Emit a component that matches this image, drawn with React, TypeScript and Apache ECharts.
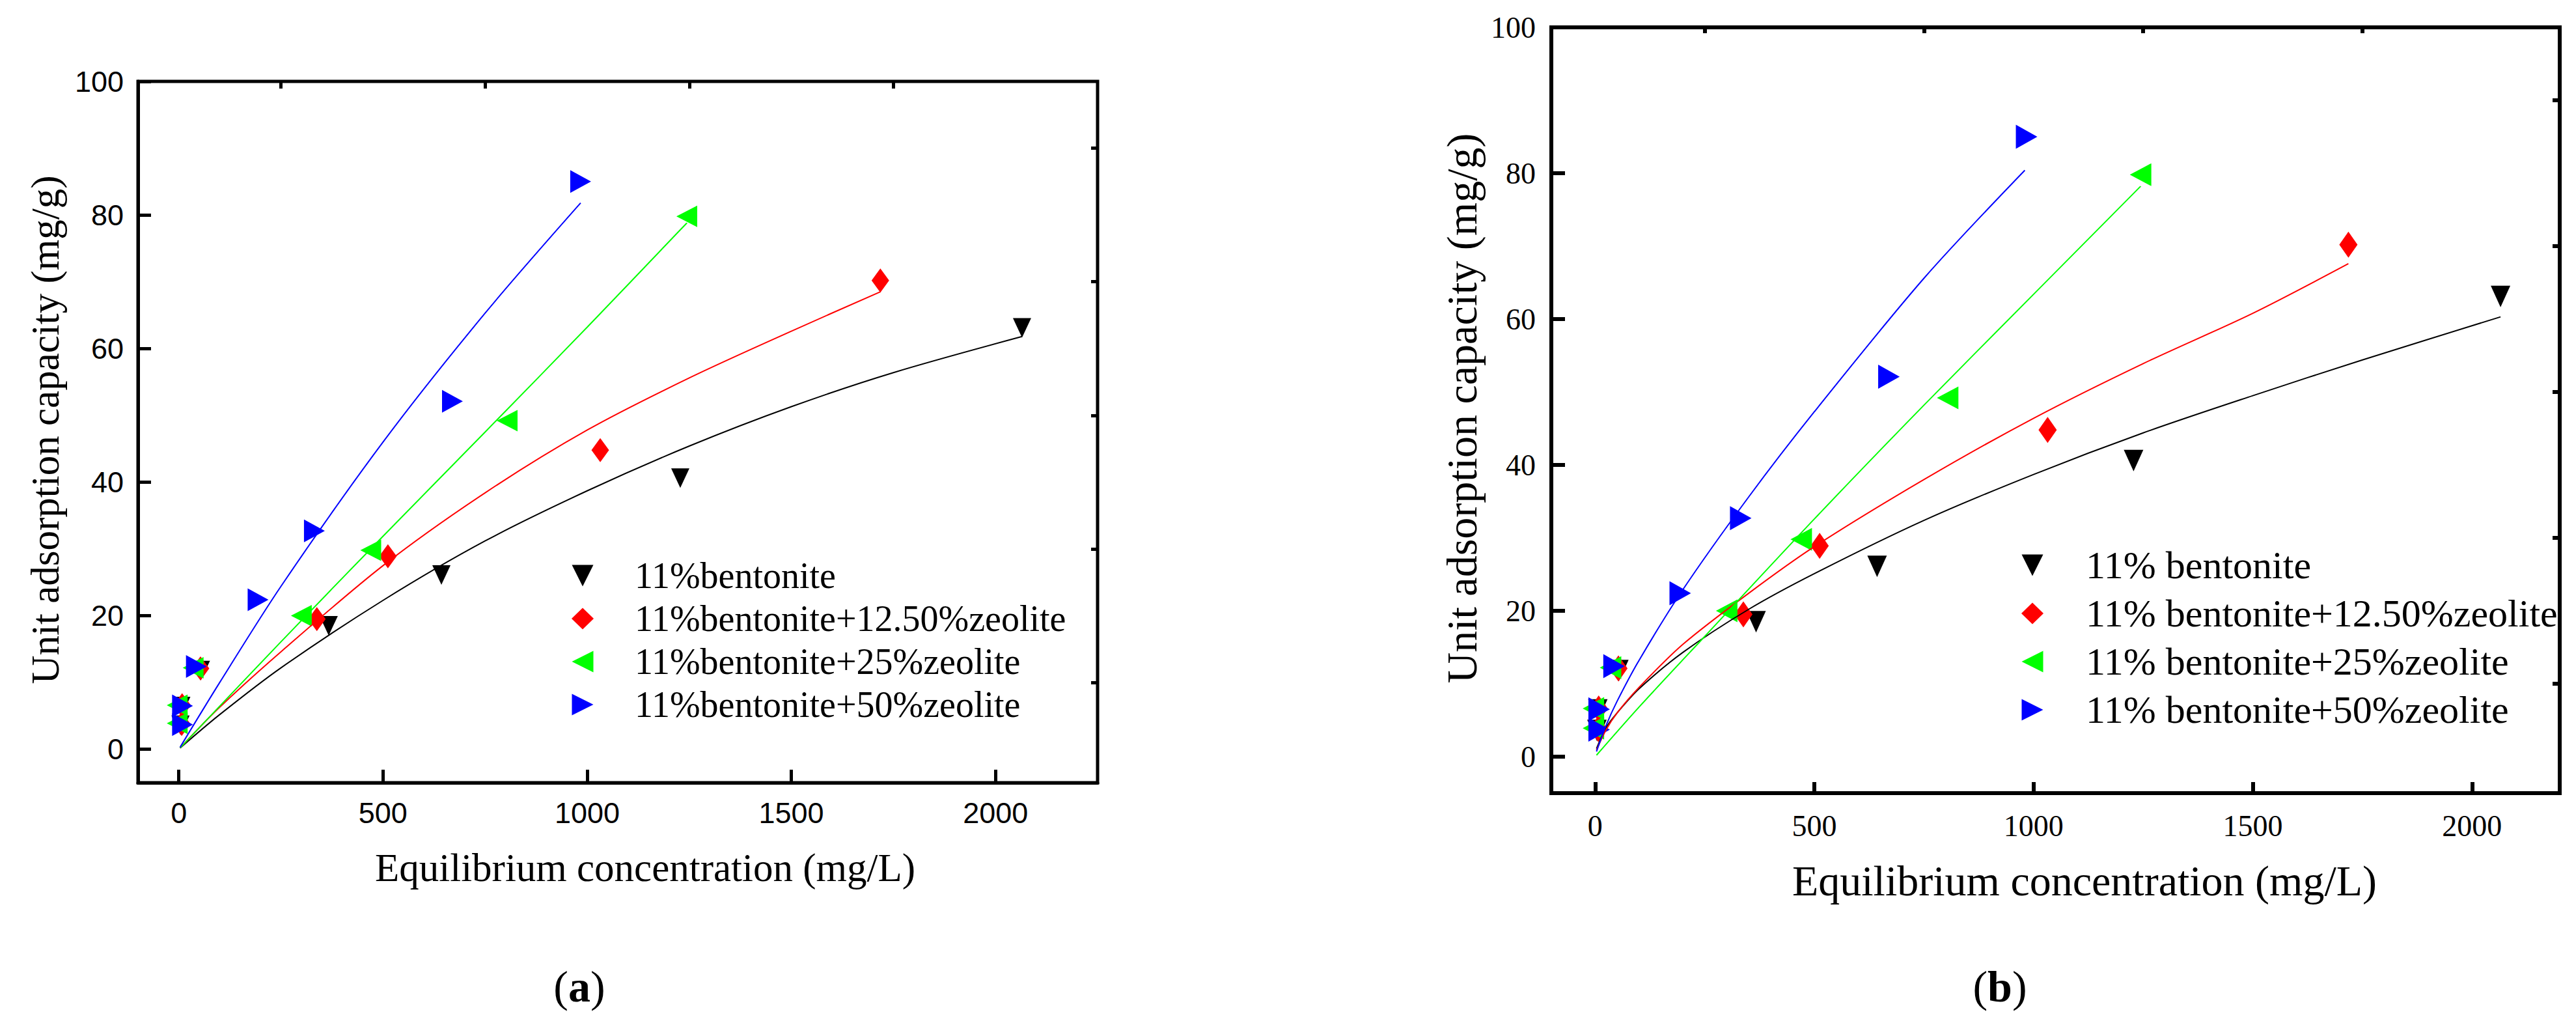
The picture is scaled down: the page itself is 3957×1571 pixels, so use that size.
import { useEffect, useRef } from "react";
import * as echarts from "echarts";

// measured points (same data in both panels)
const blackPts = [[4, 3.6], [6, 6.4], [54, 11.8], [367, 18.5], [643, 26.1], [1228, 40.6], [2065, 63.1]];
const redPts = [[7, 3.8], [8, 6.6], [53, 12.1], [338, 19.5], [512, 28.9], [1032, 44.8], [1718, 70.2]];
const greenPts = [[-4, 3.9], [-4, 6.6], [35, 12.2], [300, 20.0], [470, 29.8], [804, 49.2], [1244, 79.8]];
const bluePts = [[9, 3.7], [9, 6.5], [43, 12.4], [194, 22.4], [332, 32.7], [670, 52.1], [984, 85.0]];

// fitted curves, panel (a)
const blackFitA = [[3, 0.2], [100, 5.2], [250, 12.2], [500, 22.3], [750, 31.2], [1000, 38.7], [1250, 45.4], [1500, 51.3], [1750, 56.4], [2065, 61.8]];
const redFitA = [[3, 0.2], [100, 6.3], [250, 14.6], [500, 27.5], [750, 38.4], [1000, 47.8], [1250, 55.6], [1500, 62.6], [1718, 68.5]];
const greenFitA = [[3, 0.2], [250, 16.1], [500, 31.9], [750, 47.5], [1000, 63.2], [1244, 78.8]];
const blueFitA = [[3, 0.3], [100, 10.0], [250, 24.4], [500, 46.0], [750, 65.3], [984, 81.8]];

// fitted curves, panel (b)
const blackFitB = [[3, 1.1], [25, 4.0], [50, 6.0], [100, 9.3], [200, 14.3], [350, 20.2], [500, 25.1], [750, 32.4], [1000, 38.7], [1250, 44.4], [1500, 49.5], [1750, 54.4], [2065, 60.3]];
const redFitB = [[3, 0.9], [25, 3.7], [50, 6.0], [100, 9.5], [200, 15.4], [350, 22.4], [500, 28.8], [750, 38.0], [1000, 46.4], [1250, 53.9], [1500, 60.8], [1718, 67.6]];
const greenFitB = [[3, 0.2], [100, 6.8], [250, 16.5], [500, 32.6], [750, 48.2], [1000, 63.4], [1244, 78.2]];
const blueFitB = [[3, 0.7], [25, 4.3], [50, 7.6], [100, 13.2], [200, 22.9], [350, 35.6], [500, 47.3], [750, 65.6], [980, 80.4]];

const namesA = ["11%bentonite", "11%bentonite+12.50%zeolite", "11%bentonite+25%zeolite", "11%bentonite+50%zeolite"];
const namesB = ["11% bentonite", "11% bentonite+12.50%zeolite", "11% bentonite+25%zeolite", "11% bentonite+50%zeolite"];

const X_MAJOR = [0, 500, 1000, 1500, 2000];
const X_MINOR = [250, 750, 1250, 1750];
const Y_MAJOR = [0, 20, 40, 60, 80, 100];
const Y_MINOR = [10, 30, 50, 70, 90];

const COLORS = ["#000000", "#ff0000", "#00ff00", "#0000ff"];
const SYMBOLS = ["path://M0,0L10,0L5,10Z", "diamond", "path://M10,0L0,5L10,10Z", "path://M0,0L10,5L0,10Z"];

const SERIF = "'Liberation Serif', 'Times New Roman', serif";
const SANS = "'Liberation Sans', Arial, sans-serif";

function axes(gridIndex: number, xMax: number, lw: number, font: string, fs: number, xMargin: number, yMargin: number, tickY: number, tickX: number) {
  const label = { fontSize: fs, fontFamily: font, color: "#000", formatter: (v: number) => String(v) };
  const xAxis = [
    {
      type: "value", gridIndex, min: -100, max: xMax,
      axisLine: { show: true, onZero: false, lineStyle: { color: "#000", width: lw } },
      axisTick: { show: true, inside: true, length: tickX, customValues: X_MAJOR, lineStyle: { color: "#000", width: lw } },
      axisLabel: { ...label, margin: xMargin, customValues: X_MAJOR },
      splitLine: { show: false },
    },
    {
      type: "value", gridIndex, min: -100, max: xMax,
      axisLine: { show: false, onZero: false },
      axisTick: { show: true, inside: true, length: Math.round(tickX * 0.55), customValues: X_MINOR, lineStyle: { color: "#000", width: lw } },
      axisLabel: { show: false },
      splitLine: { show: false },
    },
  ];
  const yAxis = [
    {
      type: "value", gridIndex, min: -5, max: 100,
      axisLine: { show: true, onZero: false, lineStyle: { color: "#000", width: lw } },
      axisTick: { show: true, inside: true, length: tickY, customValues: Y_MAJOR, lineStyle: { color: "#000", width: lw } },
      axisLabel: { ...label, margin: yMargin, customValues: Y_MAJOR },
      splitLine: { show: false },
    },
    {
      type: "value", gridIndex, min: -5, max: 100,
      axisLine: { show: false, onZero: false },
      axisTick: { show: true, inside: true, length: Math.round(tickY * 0.5), customValues: Y_MINOR, lineStyle: { color: "#000", width: lw } },
      axisLabel: { show: false },
      splitLine: { show: false },
    },
  ];
  return { xAxis, yAxis };
}

function panelSeries(axisIndex: number, names: string[], fits: number[][][], sizes: number[][]) {
  const pts = [blackPts, redPts, greenPts, bluePts];
  const out: any[] = [];
  pts.forEach((d, i) => {
    out.push({
      type: "scatter", name: names[i], xAxisIndex: axisIndex, yAxisIndex: axisIndex,
      data: d, symbol: SYMBOLS[i], symbolSize: sizes[i],
      itemStyle: { color: COLORS[i], opacity: 1 }, z: 3,
    });
  });
  fits.forEach((d, i) => {
    out.push({
      type: "line", xAxisIndex: axisIndex, yAxisIndex: axisIndex, data: d,
      smooth: 0.3, symbol: "none", showSymbol: false, silent: true,
      lineStyle: { color: COLORS[i], width: 2 }, itemStyle: { color: COLORS[i] }, z: 4,
    });
  });
  return out;
}

function buildOption() {
  const a = axes(0, 2250, 5, SANS, 45, 24, 22, 20, 20);
  const b = axes(1, 2200, 6, SERIF, 46, 27, 24, 21, 17);

  const legend = (names: string[], left: number, top: number, fs: number, gap: number, pad: number) => ({
    orient: "vertical", left, top, itemWidth: 34, itemHeight: 33, itemGap: gap, selectedMode: false,
    data: names.map((n, i) => ({ name: n, icon: SYMBOLS[i] })),
    textStyle: { fontSize: fs, fontFamily: SERIF, color: "#000", lineHeight: fs, padding: [0, 0, 0, pad] },
  });

  const title = (x: number, y: number, text: string, rot: number, fs: number) => ({
    type: "text", x, y, rotation: rot,
    style: { text, fontSize: fs, fontFamily: SERIF, fill: "#000", align: "center", verticalAlign: "middle" },
  });

  const panelTag = (x: number, letter: string) => ({
    type: "text", x, y: 1515,
    style: {
      text: `{p|(}{b|${letter}}{p|)}`, align: "center", verticalAlign: "middle",
      rich: {
        p: { fontSize: 68, fontFamily: SERIF, fill: "#000" },
        b: { fontSize: 68, fontFamily: SERIF, fontWeight: "bold", fill: "#000" },
      },
    },
  });

  return {
    animation: false,
    backgroundColor: "#ffffff",
    grid: [
      { left: 212, top: 125, width: 1474, height: 1077, show: true, borderColor: "#000", borderWidth: 5, backgroundColor: "transparent" },
      { left: 2383, top: 42, width: 1549, height: 1176, show: true, borderColor: "#000", borderWidth: 6, backgroundColor: "transparent" },
    ],
    xAxis: [...a.xAxis, ...b.xAxis],
    yAxis: [...a.yAxis, ...b.yAxis],
    legend: [
      legend(namesA, 873, 851, 56, 10, 58),
      legend(namesB, 3100, 833, 60, 14, 60),
    ],
    graphic: [
      title(69, 660, "Unit adsorption capacity (mg/g)", Math.PI / 2, 61),
      title(991, 1332, "Equilibrium concentration (mg/L)", 0, 61),
      title(2245, 627, "Unit adsorption capacity (mg/g)", Math.PI / 2, 66),
      title(3202, 1352, "Equilibrium concentration (mg/L)", 0, 66),
      panelTag(890, "a"),
      panelTag(3072, "b"),
    ],
    series: [
      ...panelSeries(0, namesA, [blackFitA, redFitA, greenFitA, blueFitA], [[28, 30], [27, 37], [32, 33], [32, 35]]),
      ...panelSeries(2, namesB, [blackFitB, redFitB, greenFitB, blueFitB], [[30, 33], [28, 40], [33, 35], [33, 37]]),
    ],
  };
}

export default function App() {
  const ref = useRef<HTMLDivElement>(null);

  useEffect(() => {
    document.body.style.margin = "0";
    if (!ref.current) return;
    const chart = echarts.init(ref.current, null, { renderer: "svg" });
    chart.setOption(buildOption() as any);
    return () => chart.dispose();
  }, []);

  return <div ref={ref} style={{ width: 3957, height: 1571 }} />;
}
